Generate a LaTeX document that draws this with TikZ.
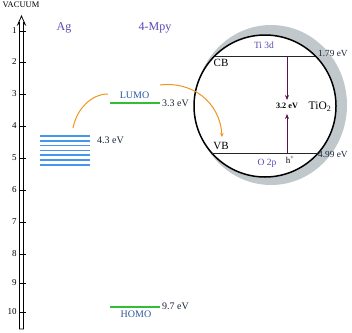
\documentclass[tikz,border=0pt]{standalone}
\usepackage{fontspec}
\setmainfont{Liberation Serif}
\usetikzlibrary{positioning}
\usetikzlibrary{arrows.meta}
\definecolor{labelpurple}{RGB}{92,70,180}
\definecolor{orbitblue}{RGB}{40,88,160}
\definecolor{levelblue}{RGB}{70,150,240}
\definecolor{levelgreen}{RGB}{50,190,50}
\definecolor{transferorange}{RGB}{238,150,30}
\definecolor{shellgray}{RGB}{192,200,204}
\definecolor{gapmaroon}{RGB}{90,20,70}
\definecolor{valuedark}{RGB}{25,35,60}
\tikzset{
axis_body/.style={line width=0.8pt, fill=white},
axis_tick/.style={line width=1pt},
axis_num/.style={anchor=east, font=\fontsize{9}{10}\selectfont, inner sep=1pt},
column_head/.style={text=labelpurple, font=\fontsize{12}{14}\selectfont},
ag_level/.style={levelblue, line width=1.5pt},
mo_level/.style={levelgreen, line width=1.5pt},
mo_name/.style={text=orbitblue, font=\fontsize{10}{12}\selectfont, inner sep=1pt},
energy/.style={text=valuedark, font=\fontsize{10}{12}\selectfont, inner sep=1pt},
small_energy/.style={text=valuedark, font=\fontsize{9.3}{11}\selectfont, inner sep=1pt},
transfer/.style={transferorange, line width=1pt},
tio2_circle/.style={circle, draw, line width=1.5pt, fill=white, minimum size=142pt, inner sep=0pt},
band_edge/.style={line width=0.9pt, black!85},
band_name/.style={font=\fontsize{11}{13}\selectfont, inner sep=1pt},
orbital/.style={text=labelpurple, font=\fontsize{9.5}{11}\selectfont, inner sep=1pt},
gap_arrow/.style={gapmaroon, line width=1pt, -{Stealth[length=5pt, width=4pt]}},
gap_label/.style={font=\fontsize{8.2}{10}\selectfont\bfseries, inner sep=3pt}
}
\begin{document}
\begin{tikzpicture}[x=1pt, y=-1pt]
    \useasboundingbox (0,0) rectangle (352,332);
    % energy axis
    \coordinate (axis_tip) at (21.5,16);
    \draw[axis_body] (19.5,329) -- (19.5,23) -- (17.8,24.5) -- (axis_tip) -- (25.2,24.5) -- (23.5,23) -- (23.5,329) -- cycle;
    \node[font=\fontsize{8.5}{10}\selectfont, inner sep=0pt] (vacuum) at (21,5) {VACUUM};
    \foreach \n/\y in {1/31, 2/62, 3/94, 4/126, 5/158, 6/190, 7/222, 8/254, 9/283, 10/312}
        \draw[axis_tick] (19.5,\y) -- (25.5,\y) node[axis_num] at (18,\y) {\n};
    % column heads
    \node[column_head] (ag_head) at (64,28) {Ag};
    \node[column_head] (mpy_head) at (155,28) {4-Mpy};
    % Ag levels
    \foreach \y in {136,140.8,145.6,150.4,155.2,160,164.8}
        \draw[ag_level] (40,\y) -- (90,\y);
    \node[energy, anchor=west] (ag_value) at (96,140) {4.3 eV};
    % 4-Mpy orbitals
    \coordinate (lumo_start) at (110,103);
    \coordinate (lumo_end) at (160,103);
    \draw[mo_level] (lumo_start) -- (lumo_end);
    \node[mo_name] (lumo) at (134.5,95.5) {LUMO};
    \node[energy, right=1pt of lumo_end] (lumo_value) {3.3 eV};
    \coordinate (homo_start) at (110,307);
    \coordinate (homo_end) at (160,307);
    \draw[mo_level] (homo_start) -- (homo_end);
    \node[mo_name] (homo) at (136,314) {HOMO};
    \node[energy, right=1pt of homo_end, yshift=1pt] (homo_value) {9.7 eV};
    % TiO2 particle
    \fill[shellgray] (271,105) ellipse [x radius=76pt, y radius=80pt];
    \node[tio2_circle] (tio2) at (265,106) {};
    \coordinate (cb_left) at (214.6,56);
    \coordinate (cb_right) at (315.4,56);
    \coordinate (vb_left) at (211.8,153);
    \coordinate (vb_right) at (318.2,153);
    \draw[band_edge] (cb_left) -- (cb_right);
    \draw[band_edge] (vb_left) -- (vb_right);
    \node[band_name] (cb) at (221,63) {CB};
    \node[band_name] (vb) at (221,145.5) {VB};
    \node[orbital] (ti3d) at (264,45) {Ti 3d};
    \node[orbital] (o2p) at (267,163) {O 2p};
    \node[small_energy, anchor=west] (cb_value) at (317,53) {1.79 eV};
    \node[small_energy, anchor=west] (vb_value) at (317,154.5) {4.99 eV};
    \node[font=\fontsize{9}{10}\selectfont, inner sep=1pt] (hole) at (290,160) {h\textsuperscript{+}};
    \node[gap_label] (gap_value) at (287,106) {3.2 eV};
    \node[font=\fontsize{11.5}{13}\selectfont, inner sep=1pt] (tio2_name) at (320,107) {TiO\textsubscript{2}};
    \coordinate (cb_mid) at (287,56);
    \coordinate (vb_mid) at (287,153);
    \draw[gap_arrow] (cb_mid) -- (gap_value.north);
    \draw[gap_arrow, shorten >=2pt] (vb_mid) -- (gap_value.south);
    % electron transfer
    \coordinate (ag_top) at (73,128);
    \coordinate (lumo_in) at (108,94);
    \coordinate (lumo_out) at (160,85);
    \coordinate (vb_in) at (222,137);
    \draw[transfer] (ag_top) .. controls (77,108) and (92,94) .. (lumo_in);
    \draw[transfer, -{Stealth[length=4pt, width=3.5pt]}] (lumo_out) .. controls (192,81) and (220,102) .. (vb_in);
\end{tikzpicture}
\end{document}
